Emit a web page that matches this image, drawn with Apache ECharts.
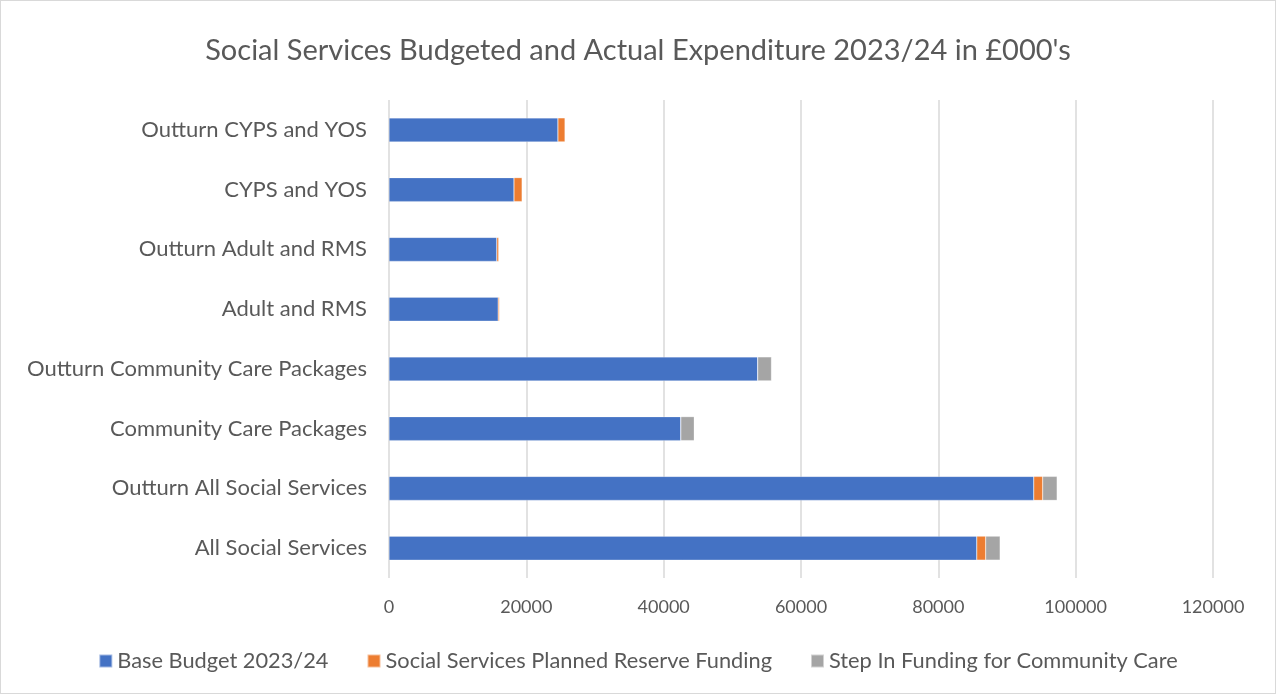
<!DOCTYPE html>
<html>
<head>
<meta charset="utf-8">
<script src="https://cdn.jsdelivr.net/npm/echarts@6/dist/echarts.min.js"></script>
<style>
  html, body { margin: 0; padding: 0; background: #fff; }
  #chart { width: 1274px; height: 692px; border: 1px solid #d9d9d9; }
</style>
</head>
<body>
<div id="chart"></div>
<script>
// categories, bottom to top
const categories = [
  'All Social Services',
  'Outturn All Social Services',
  'Community Care Packages',
  'Outturn Community Care Packages',
  'Adult and RMS',
  'Outturn Adult and RMS',
  'CYPS and YOS',
  'Outturn CYPS and YOS'
]
const baseBudget = [85600, 93900, 42500, 53700, 15900, 15700, 18200, 24600]
const reserveFunding = [1300, 1300, 0, 0, 200, 300, 1200, 1050]
const stepInFunding = [2100, 2100, 1950, 2000, 0, 0, 0, 0]
const seriesNames = ['Base Budget 2023/24', 'Social Services Planned Reserve Funding', 'Step In Funding for Community Care']
const colors = ['#4472C4', '#ED7D31', '#A5A5A5']

const chart = echarts.init(document.getElementById('chart'))
const font = 'Lato, "Open Sans", sans-serif'
const textColor = '#595959'

const makeSeries = (name, data) => ({
  name: name,
  type: 'bar',
  stack: 'total',
  data: data,
  barWidth: 24,
  itemStyle: { borderColor: 'rgba(255,255,255,0.5)', borderWidth: 0.5 }
})

chart.setOption({
  color: colors,
  textStyle: { fontFamily: font },
  title: {
    text: "Social Services Budgeted and Actual Expenditure 2023/24 in £000's",
    left: 'center',
    top: 30,
    textStyle: { fontSize: 29, fontWeight: 'normal', color: textColor, fontFamily: font }
  },
  legend: {
    bottom: 16,
    left: 'center',
    itemWidth: 13,
    itemHeight: 13,
    itemGap: 38,
    icon: 'rect',
    textStyle: { fontSize: 21.8, color: textColor, fontFamily: font }
  },
  grid: { left: 388, right: 62, top: 99, bottom: 115, containLabel: false },
  xAxis: {
    type: 'value',
    min: 0,
    max: 120000,
    interval: 20000,
    axisLine: { show: false },
    axisTick: { show: false },
    splitLine: { lineStyle: { color: '#d9d9d9', width: 1.5 } },
    axisLabel: { fontSize: 18, color: textColor, margin: 20, fontFamily: font, formatter: v => String(v) }
  },
  yAxis: {
    type: 'category',
    data: categories,
    axisLine: { show: false },
    axisTick: { show: false },
    axisLabel: { fontSize: 22, color: textColor, margin: 22, fontFamily: font }
  },
  series: [
    makeSeries(seriesNames[0], baseBudget),
    makeSeries(seriesNames[1], reserveFunding),
    makeSeries(seriesNames[2], stepInFunding)
  ]
})
</script>
</body>
</html>
